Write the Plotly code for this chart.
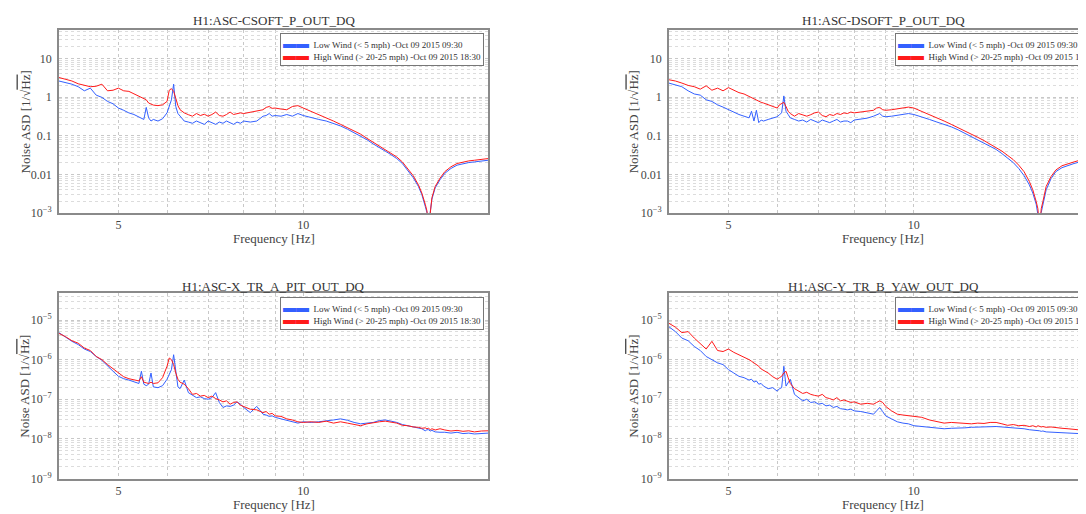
import math
import plotly.graph_objects as go

# ---------------- data ----------------
freq = [4.0, 4.1, 4.2, 4.3, 4.4, 4.5, 4.6, 4.7, 4.8, 4.9,
        5.0, 5.1, 5.2, 5.3, 5.4, 5.45, 5.5, 5.55, 5.6, 5.65,
        5.7, 5.8, 5.9, 6.0, 6.05, 6.1, 6.15, 6.2, 6.25, 6.3,
        6.4, 6.5, 6.6, 6.7, 6.8, 6.9, 7.0, 7.1, 7.2, 7.3,
        7.4, 7.5, 7.6, 7.7, 7.8, 7.9, 8.0, 8.2, 8.4, 8.6,
        8.7, 8.8, 8.9, 9.0, 9.2, 9.4, 9.6, 9.8, 10.0, 10.3,
        10.6, 10.9, 11.2, 11.5, 11.8, 12.1, 12.4, 12.7, 13.0, 13.3,
        13.6, 13.9, 14.2, 14.5, 14.8, 15.1, 15.4, 15.6, 15.8, 15.9,
        16.0, 16.1, 16.2, 16.4, 16.7, 17.0, 17.4, 17.8, 18.2, 18.6,
        19.0, 19.5, 20.0]

csoft_low = [2.6, 2.4, 2.15, 1.85, 1.45, 1.7, 1.12, 0.98, 0.77, 0.67,
             0.52, 0.455, 0.39, 0.354, 0.31, 0.29, 0.264, 0.54, 0.29, 0.24,
             0.264, 0.24, 0.275, 0.39, 0.57, 0.85, 2.15, 0.57, 0.375, 0.32,
             0.24, 0.226, 0.21, 0.24, 0.218, 0.197, 0.24, 0.218, 0.197, 0.226,
             0.21, 0.24, 0.218, 0.197, 0.226, 0.21, 0.24, 0.226, 0.24, 0.32,
             0.333, 0.375, 0.32, 0.333, 0.32, 0.354, 0.32, 0.375, 0.333, 0.29,
             0.264, 0.24, 0.21, 0.179, 0.148, 0.121, 0.096, 0.079, 0.0615, 0.0507,
             0.0401, 0.0324, 0.0257, 0.0192, 0.013, 0.0083, 0.0049, 0.003, 0.0015, 0.00104,
             0.0005, 0.00104, 0.0023, 0.0045, 0.0073, 0.0107, 0.0143, 0.0174, 0.0192, 0.0203,
             0.0211, 0.022, 0.0233]
csoft_high = [3.2, 2.85, 2.6, 2.2, 2.0, 1.85, 1.9, 2.15, 1.45, 1.5,
              1.7, 1.45, 1.4, 1.2, 1.07, 0.98, 0.9, 0.85, 0.70, 0.67,
              0.62, 0.60, 0.63, 0.77, 1.5, 1.65, 1.4, 0.93, 0.60, 0.47,
              0.39, 0.35, 0.32, 0.375, 0.333, 0.36, 0.32, 0.354, 0.41, 0.333,
              0.32, 0.354, 0.41, 0.354, 0.375, 0.39, 0.375, 0.41, 0.43, 0.47,
              0.54, 0.57, 0.51, 0.52, 0.49, 0.47, 0.57, 0.60, 0.52, 0.43,
              0.354, 0.29, 0.24, 0.197, 0.163, 0.134, 0.11, 0.0855, 0.068, 0.0558,
              0.0443, 0.0357, 0.0283, 0.0211, 0.0143, 0.0093, 0.0054, 0.0033, 0.0017, 0.00115,
              0.0004, 0.00115, 0.0025, 0.0049, 0.008, 0.0118, 0.0158, 0.0192, 0.0211, 0.0224,
              0.0233, 0.0242, 0.0257]

dsoft_low = [2.3, 2.05, 1.85, 1.45, 1.2, 1.12, 0.85, 0.77, 0.63, 0.55,
             0.47, 0.41, 0.354, 0.32, 0.29, 0.43, 0.24, 0.455, 0.218, 0.255,
             0.24, 0.264, 0.285, 0.31, 0.35, 0.39, 1.07, 0.43, 0.354, 0.29,
             0.264, 0.24, 0.255, 0.226, 0.264, 0.24, 0.218, 0.255, 0.235, 0.218,
             0.24, 0.264, 0.226, 0.24, 0.24, 0.218, 0.255, 0.264, 0.285, 0.32,
             0.354, 0.375, 0.32, 0.31, 0.32, 0.333, 0.35, 0.375, 0.354, 0.31,
             0.264, 0.226, 0.197, 0.17, 0.142, 0.116, 0.096, 0.079, 0.065, 0.054,
             0.0443, 0.0345, 0.027, 0.0203, 0.0143, 0.0093, 0.0054, 0.0033, 0.0017, 0.00104,
             0.0005, 0.00104, 0.0017, 0.004, 0.0078, 0.0118, 0.015, 0.0174, 0.0192, 0.0211,
             0.0215, 0.022, 0.0229]
dsoft_high = [2.8, 2.6, 2.3, 2.0, 1.85, 1.6, 1.95, 1.5, 1.7, 1.45,
              1.75, 1.5, 1.3, 1.2, 1.03, 0.98, 0.9, 0.85, 0.77, 0.73,
              0.70, 0.63, 0.57, 0.52, 0.63, 0.67, 0.73, 0.57, 0.43, 0.375,
              0.32, 0.375, 0.354, 0.32, 0.35, 0.39, 0.41, 0.333, 0.31, 0.354,
              0.333, 0.375, 0.354, 0.39, 0.375, 0.41, 0.39, 0.41, 0.42, 0.455,
              0.52, 0.54, 0.47, 0.455, 0.47, 0.49, 0.53, 0.55, 0.52, 0.43,
              0.354, 0.29, 0.24, 0.197, 0.163, 0.134, 0.11, 0.091, 0.075, 0.0615,
              0.0507, 0.0401, 0.031, 0.0242, 0.0174, 0.0118, 0.0066, 0.004, 0.002, 0.0013,
              0.0004, 0.0013, 0.002, 0.0049, 0.0088, 0.013, 0.0168, 0.0192, 0.0211, 0.0233,
              0.0242, 0.0248, 0.0257]

xtr_low = [4.8e-6, 3.7e-6, 2.9e-6, 2.4e-6, 1.85e-6, 1.6e-6, 1.2e-6, 9.6e-7, 6.8e-7, 5.1e-7,
           3.8e-7, 3.3e-7, 3.05e-7, 2.7e-7, 2.5e-7, 5.1e-7, 2.4e-7, 2.2e-7, 2.4e-7, 4.6e-7,
           2.05e-7, 1.96e-7, 2.2e-7, 3.2e-7, 4.2e-7, 5.6e-7, 1.33e-6, 4.6e-7, 2.05e-7, 1.85e-7,
           3.05e-7, 1.47e-7, 1.25e-7, 1.1e-7, 1.15e-7, 1.04e-7, 1.0e-7, 1.1e-7, 1.47e-7, 8.3e-8,
           6.2e-8, 6.8e-8, 6.6e-8, 7.1e-8, 8.6e-8, 7.5e-8, 6.2e-8, 4.6e-8, 6.6e-8, 4.2e-8,
           4.0e-8, 3.7e-8, 3.8e-8, 3.5e-8, 3.2e-8, 2.9e-8, 2.7e-8, 2.5e-8, 2.7e-8, 2.6e-8,
           2.7e-8, 2.8e-8, 3.0e-8, 3.2e-8, 2.95e-8, 2.6e-8, 2.4e-8, 2.5e-8, 2.6e-8, 2.9e-8,
           3.0e-8, 2.8e-8, 2.6e-8, 2.3e-8, 2.15e-8, 2.0e-8, 1.85e-8, 1.8e-8, 1.6e-8, 1.7e-8,
           1.7e-8, 1.58e-8, 1.64e-8, 1.5e-8, 1.47e-8, 1.47e-8, 1.4e-8, 1.47e-8, 1.36e-8, 1.4e-8,
           1.33e-8, 1.38e-8, 1.4e-8]
xtr_high = [4.6e-6, 3.8e-6, 3.0e-6, 2.6e-6, 1.96e-6, 1.7e-6, 1.2e-6, 1.0e-6, 7.5e-7, 5.8e-7,
            4.6e-7, 3.7e-7, 3.3e-7, 3.05e-7, 2.9e-7, 3.7e-7, 2.7e-7, 2.6e-7, 2.5e-7, 2.7e-7,
            2.5e-7, 2.6e-7, 3.5e-7, 6.8e-7, 1.1e-6, 1.0e-6, 7.5e-7, 4.6e-7, 3.2e-7, 2.7e-7,
            2.4e-7, 1.85e-7, 1.33e-7, 1.4e-7, 1.2e-7, 1.25e-7, 1.1e-7, 1.2e-7, 1.04e-7, 9.6e-8,
            8.6e-8, 9.1e-8, 7.5e-8, 8.3e-8, 8.6e-8, 7.1e-8, 6.6e-8, 5.6e-8, 5.4e-8, 4.6e-8,
            4.9e-8, 4.2e-8, 4.4e-8, 3.8e-8, 3.7e-8, 3.2e-8, 3.0e-8, 2.7e-8, 2.6e-8, 2.7e-8,
            2.6e-8, 2.8e-8, 2.5e-8, 2.7e-8, 2.5e-8, 2.3e-8, 2.15e-8, 2.4e-8, 2.6e-8, 2.7e-8,
            2.8e-8, 2.6e-8, 2.5e-8, 2.2e-8, 2.15e-8, 2.0e-8, 1.96e-8, 1.85e-8, 1.9e-8, 1.8e-8,
            1.85e-8, 1.7e-8, 1.8e-8, 1.68e-8, 1.8e-8, 1.68e-8, 1.58e-8, 1.64e-8, 1.55e-8, 1.6e-8,
            1.5e-8, 1.58e-8, 1.6e-8]

ytr_low = [6.8e-6, 5.1e-6, 3.5e-6, 3.0e-6, 2.15e-6, 1.7e-6, 1.2e-6, 1.0e-6, 8.3e-7, 7.5e-7,
           5.6e-7, 4.6e-7, 3.8e-7, 3.5e-7, 3.05e-7, 3.2e-7, 2.7e-7, 2.9e-7, 2.4e-7, 2.5e-7,
           2.15e-7, 1.85e-7, 1.96e-7, 1.6e-7, 1.85e-7, 1.96e-7, 6.8e-7, 2.15e-7, 2.6e-7, 3.2e-7,
           1.33e-7, 1.1e-7, 9.1e-8, 1.0e-7, 8.3e-8, 8.6e-8, 7.5e-8, 7.9e-8, 6.8e-8, 7.1e-8,
           6.2e-8, 6.6e-8, 5.8e-8, 5.6e-8, 5.4e-8, 5.6e-8, 5.1e-8, 4.9e-8, 4.6e-8, 4.2e-8,
           5.1e-8, 6.2e-8, 4.9e-8, 3.8e-8, 3.2e-8, 2.7e-8, 2.5e-8, 2.4e-8, 2.15e-8, 2.05e-8,
           1.96e-8, 1.9e-8, 1.8e-8, 1.85e-8, 1.85e-8, 1.9e-8, 1.96e-8, 2.0e-8, 2.05e-8, 2.05e-8,
           2.05e-8, 2.0e-8, 1.96e-8, 1.9e-8, 1.85e-8, 1.8e-8, 1.7e-8, 1.68e-8, 1.6e-8, 1.64e-8,
           1.6e-8, 1.55e-8, 1.58e-8, 1.5e-8, 1.47e-8, 1.47e-8, 1.4e-8, 1.4e-8, 1.38e-8, 1.36e-8,
           1.33e-8, 1.33e-8, 1.36e-8]
ytr_high = [8.3e-6, 6.6e-6, 4.8e-6, 5.1e-6, 3.5e-6, 2.6e-6, 1.85e-6, 2.9e-6, 1.7e-6, 1.6e-6,
            1.85e-6, 1.53e-6, 1.33e-6, 1.17e-6, 1.0e-6, 9.1e-7, 8.3e-7, 7.5e-7, 6.8e-7, 5.8e-7,
            5.4e-7, 4.6e-7, 3.7e-7, 3.2e-7, 3.5e-7, 3.8e-7, 4.6e-7, 5.1e-7, 3.5e-7, 2.5e-7,
            1.85e-7, 1.6e-7, 1.4e-7, 1.5e-7, 1.33e-7, 1.25e-7, 1.2e-7, 1.33e-7, 1.1e-7, 1.04e-7,
            9.6e-8, 1.1e-7, 9.1e-8, 9.6e-8, 9.1e-8, 8.3e-8, 8.6e-8, 7.5e-8, 7.9e-8, 7.5e-8,
            8.3e-8, 9.1e-8, 8.3e-8, 6.6e-8, 5.1e-8, 4.2e-8, 4.0e-8, 3.8e-8, 3.7e-8, 3.5e-8,
            3.0e-8, 2.7e-8, 2.5e-8, 2.6e-8, 2.5e-8, 2.4e-8, 2.4e-8, 2.5e-8, 2.45e-8, 2.6e-8,
            2.6e-8, 2.4e-8, 2.2e-8, 2.3e-8, 2.15e-8, 2.2e-8, 2.05e-8, 2.15e-8, 2.0e-8, 2.15e-8,
            2.05e-8, 2.0e-8, 2.05e-8, 1.96e-8, 2.0e-8, 1.9e-8, 1.85e-8, 1.8e-8, 1.7e-8, 1.68e-8,
            1.6e-8, 1.58e-8, 1.6e-8]

titles = ["H1:ASC-CSOFT_P_OUT_DQ", "H1:ASC-DSOFT_P_OUT_DQ",
          "H1:ASC-X_TR_A_PIT_OUT_DQ", "H1:ASC-Y_TR_B_YAW_OUT_DQ"]
legend_names = ["Low Wind (&lt; 5 mph) -Oct 09 2015 09:30",
                "High Wind (&gt; 20-25 mph) -Oct 09 2015 18:30"]
x_tickvals = [5, 10]
x_ticktext = ["5", "10"]
top_tickvals = [1e-3, 1e-2, 1e-1, 1, 10]
top_ticktext = ["10<sup>−3</sup>", "0.01", "0.1", "1", "10"]
bot_tickvals = [1e-9, 1e-8, 1e-7, 1e-6, 1e-5]
bot_ticktext = ["10<sup>−9</sup>", "10<sup>−8</sup>", "10<sup>−7</sup>",
                "10<sup>−6</sup>", "10<sup>−5</sup>"]

series = [(csoft_low, csoft_high), (dsoft_low, dsoft_high),
          (xtr_low, xtr_high), (ytr_low, ytr_high)]
for lo, hi in series:
    assert len(lo) == len(freq) and len(hi) == len(freq)

# ---------------- styling / layout ----------------
W, H = 1086, 514
BLUE = "#3360ff"
RED = "#ff1a1a"
FONT = "Liberation Serif"
TXT = "#444444"

def px_x(p):
    return p / W

def px_y(p):
    return 1 - p / H

XL = [px_x(51), px_x(481)]
XR = [px_x(662), 1.0]
YT = [px_y(208), px_y(22)]
YB = [px_y(477), px_y(289)]

domains = [(XL, YT), (XR, YT), (XL, YB), (XR, YB)]
xranges = [[math.log10(4), math.log10(20)],
           [math.log10(4), math.log10(4) + (W - 662) / 617.0],
           [math.log10(4), math.log10(20)],
           [math.log10(4), math.log10(4) + (W - 662) / 617.0]]
yranges = [[-3, 1.74], [-3, 1.74], [-9, -4.32], [-9, -4.32]]

fig = go.Figure()
for i, (lo, hi) in enumerate(series):
    sfx = "" if i == 0 else str(i + 1)
    xa, ya = "x" + sfx, "y" + sfx
    fig.add_trace(go.Scatter(x=freq, y=lo, mode="lines", xaxis=xa, yaxis=ya,
                             line=dict(color=BLUE, width=1), showlegend=False,
                             name="Low Wind", hoverinfo="skip"))
    fig.add_trace(go.Scatter(x=freq, y=hi, mode="lines", xaxis=xa, yaxis=ya,
                             line=dict(color=RED, width=1), showlegend=False,
                             name="High Wind", hoverinfo="skip"))

minor_x = [6, 7, 8, 9, 20]
grid_major = "#c8c8c8"
grid_minor = "#dcdcdc"

layout = dict(width=W, height=H, margin=dict(l=0, r=0, t=0, b=0),
              paper_bgcolor="white", plot_bgcolor="white", showlegend=False)

for i in range(4):
    sfx = "" if i == 0 else str(i + 1)
    (xd, yd) = domains[i]
    top = i < 2
    e0, e1 = (-3, 2) if top else (-9, -4)
    minor_y = [k * 10.0 ** e for e in range(e0, e1 + 1) for k in range(2, 10)]
    layout["xaxis" + sfx] = dict(
        type="log", domain=xd, range=xranges[i], anchor="y" + sfx,
        tickmode="array", tickvals=x_tickvals, ticktext=x_ticktext,
        showgrid=True, gridcolor=grid_major, griddash="dot", gridwidth=1,
        minor=dict(tickmode="array", tickvals=minor_x, showgrid=True,
                   gridcolor=grid_major, griddash="dot", gridwidth=1, ticks=""),
        showline=True, linecolor="#8a8a8a", linewidth=1.5, mirror=True,
        ticks="", tickfont=dict(family=FONT, size=12, color=TXT),
        zeroline=False, fixedrange=True)
    layout["yaxis" + sfx] = dict(
        type="log", domain=yd, range=yranges[i], anchor="x" + sfx,
        tickmode="array",
        tickvals=top_tickvals if top else bot_tickvals,
        ticktext=top_ticktext if top else bot_ticktext,
        showgrid=True, gridcolor=grid_major, griddash="dot", gridwidth=1,
        minor=dict(tickmode="array", tickvals=minor_y, showgrid=True,
                   gridcolor=grid_minor, griddash="dot", gridwidth=1, ticks=""),
        showline=True, linecolor="#8a8a8a", linewidth=1.5, mirror=True,
        ticks="", ticklabelstandoff=3,
        tickfont=dict(family=FONT, size=12, color=TXT),
        zeroline=False, fixedrange=True)

fig.update_layout(**layout)

legend_text = ("<span style='color:%s;font-size:13px'>▬▬</span>  %s<br>"
               "<span style='color:%s;font-size:13px'>▬▬</span>  %s"
               % (BLUE, legend_names[0], RED, legend_names[1]))

ann = []
centers = [(51 + 481) / 2, (662 + 1092) / 2]
legend_pos = [(477, 25), (1093, 25), (477, 293), (1093, 293)]
for i in range(4):
    cx = centers[i % 2]
    ty = 13 if i < 2 else 282
    ann.append(dict(text=titles[i], x=cx / W, y=px_y(ty), xref="paper", yref="paper",
                    showarrow=False, xanchor="center", yanchor="middle",
                    font=dict(family=FONT, size=13, color="#333333")))
    fy = 234 if i < 2 else 503
    ann.append(dict(text="Frequency [Hz]", x=cx / W, y=px_y(fy), xref="paper", yref="paper",
                    showarrow=False, xanchor="center", yanchor="middle",
                    font=dict(family=FONT, size=13, color=TXT)))
    yx = 17 if i % 2 == 0 else 627
    yc = 115 if i < 2 else 383
    ann.append(dict(text="Noise ASD [1/√<span style='text-decoration:overline'>Hz</span>]",
                    x=yx / W, y=px_y(yc), xref="paper", yref="paper",
                    showarrow=False, xanchor="center", yanchor="middle", textangle=-90,
                    font=dict(family=FONT, size=13, color=TXT)))
    lx, ly = legend_pos[i]
    ann.append(dict(text=legend_text, x=lx / W, y=px_y(ly), xref="paper", yref="paper",
                    showarrow=False, xanchor="right", yanchor="top", align="left",
                    bgcolor="white", bordercolor="#777777", borderwidth=1, borderpad=2,
                    font=dict(family=FONT, size=9, color="#333333")))
fig.update_layout(annotations=ann)

fig.write_html("out.html")
